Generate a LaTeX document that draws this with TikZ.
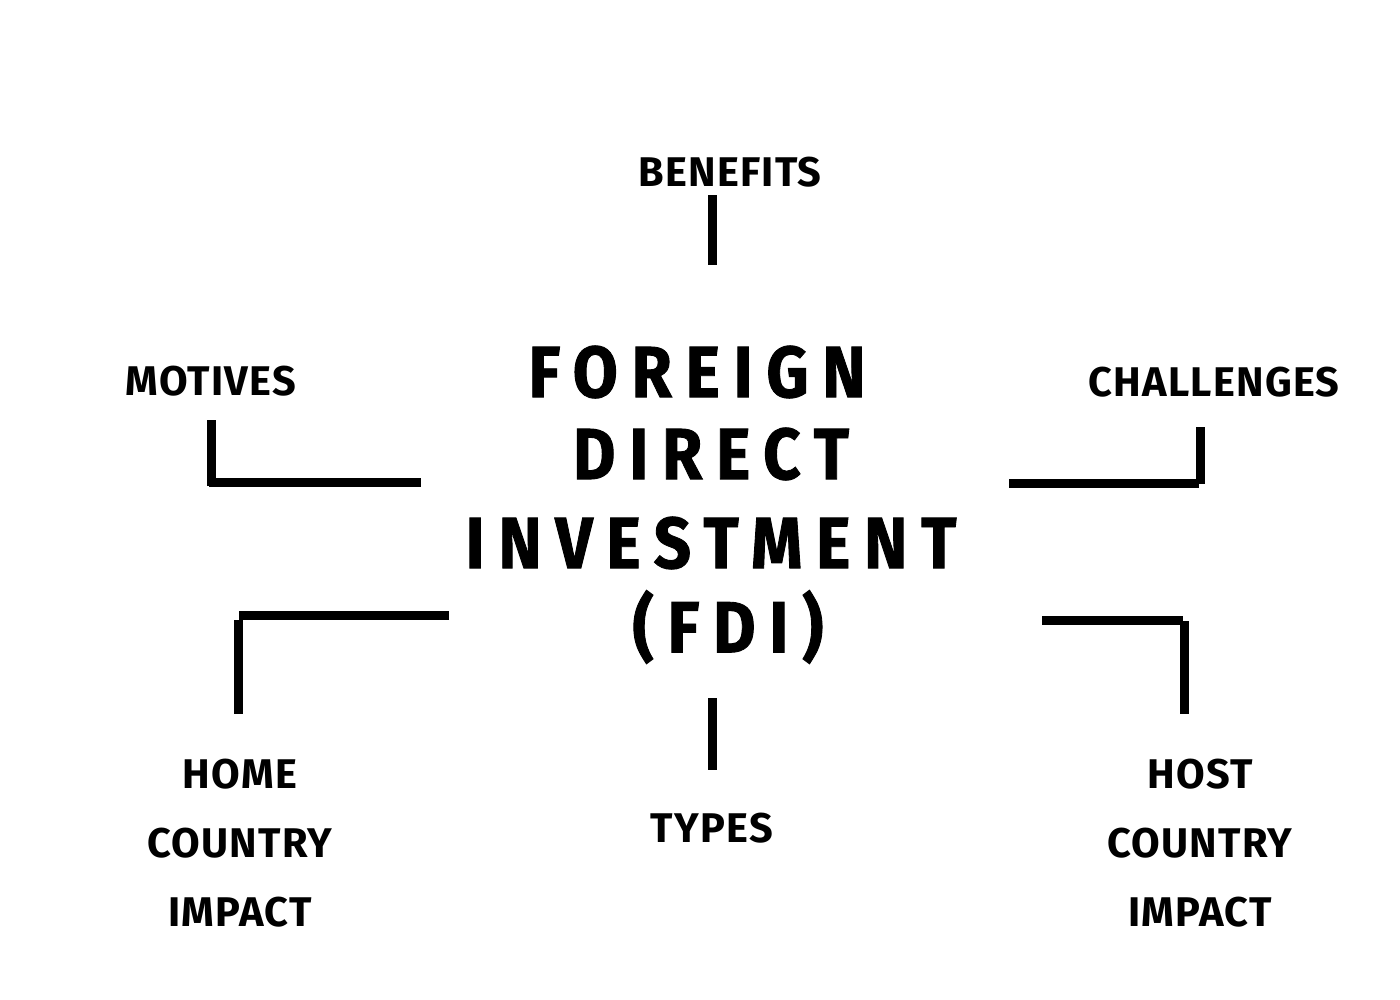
\documentclass[tikz,border=0pt]{standalone}
\usepackage{fontspec}
\usepackage{tikz}
\newfontfamily\labelfont[LetterSpace=3]{Fira Sans}
\newfontfamily\titlefont[FakeStretch=0.9,FakeBold=1.2,LetterSpace=19]{Fira Sans}

\begin{document}
\begin{tikzpicture}[x=0.01cm,y=-0.01cm,
	lbl/.style={font=\labelfont\bfseries\fontsize{11.8}{19.6}\selectfont,align=center,inner sep=0pt},
	ttl/.style={font=\titlefont\bfseries\fontsize{20.6}{24}\selectfont,inner sep=0pt},
	bar/.style={line width=0.09cm}]
	\useasboundingbox (0,0) rectangle (1400,1000);
	\node[ttl] (T1) at (697,372) {FOREIGN};
	\node[ttl] (T2) at (711,454) {DIRECT};
	\node[ttl] (T3) at (711,543) {INVESTMENT};
	\node[ttl] (T4) at (728,627) {(FDI)};
	%
	\node[lbl] (ben) at (730,172) {BENEFITS};
	\node[lbl] (mot) at (211,381) {MOTIVES};
	\node[lbl] (cha) at (1214,382) {CHALLENGES};
	\node[lbl] (home) at (240,843) {HOME\\COUNTRY\\IMPACT};
	\node[lbl] (typ) at (712,828) {TYPES};
	\node[lbl] (host) at (1200,843) {HOST\\COUNTRY\\IMPACT};
	%
	\coordinate (ben1) at (712,195);
	\coordinate (ben2) at (712,265);
	\coordinate (typ1) at (712,698);
	\coordinate (typ2) at (712,770);
	\coordinate (mot1) at (211,420);
	\coordinate (mot2) at (211,486);
	\coordinate (mot3) at (209,482);
	\coordinate (mot4) at (421,482);
	\coordinate (cha1) at (1200,427);
	\coordinate (cha2) at (1200,484);
	\coordinate (cha3) at (1009,483);
	\coordinate (cha4) at (1199,483);
	\coordinate (home1) at (449,615);
	\coordinate (home2) at (239,615);
	\coordinate (home3) at (238,620);
	\coordinate (home4) at (238,714);
	\coordinate (host1) at (1042,620);
	\coordinate (host2) at (1183,620);
	\coordinate (host3) at (1184,621);
	\coordinate (host4) at (1184,714);
	%
	\path[bar]
	(ben1) edge (ben2)
	(typ1) edge (typ2)
	(mot1) edge (mot2)
	(mot3) edge (mot4)
	(cha1) edge (cha2)
	(cha3) edge (cha4)
	(home1) edge (home2)
	(home3) edge (home4)
	(host1) edge (host2)
	(host3) edge (host4);
\end{tikzpicture}
\end{document}
